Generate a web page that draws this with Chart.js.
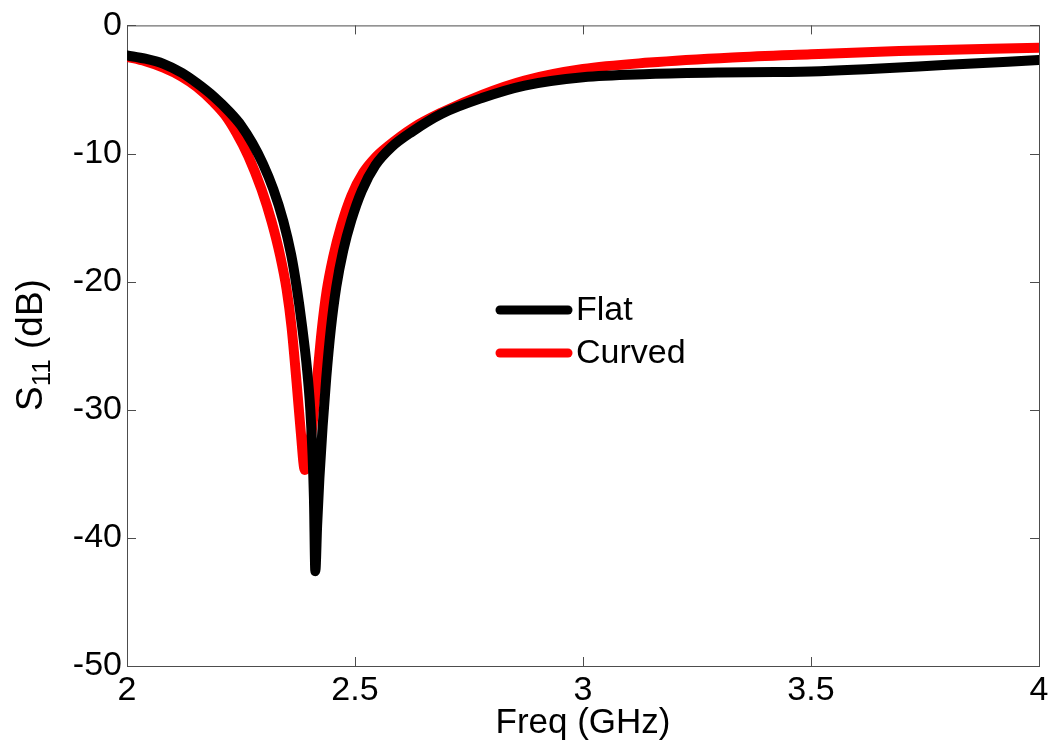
<!DOCTYPE html>
<html>
<head>
<meta charset="utf-8">
<script src="https://cdn.jsdelivr.net/npm/chart.js@4/dist/chart.umd.min.js"></script>
<style>
  html, body { margin: 0; padding: 0; background: #ffffff; }
  #wrap { width: 1055px; height: 752px; }
</style>
</head>
<body>
<div id="wrap"><canvas id="s11Chart" width="1055" height="752"></canvas></div>
<script>
// frequency sweep (GHz) and return loss (dB) for each antenna
let freqFlat = [2.000, 2.040, 2.080, 2.120, 2.153, 2.190, 2.226, 2.250, 2.275, 2.298, 2.321, 2.343, 2.360, 2.372,
  2.384, 2.395, 2.402, 2.407, 2.410, 2.413, 2.417, 2.422, 2.429, 2.437, 2.447, 2.459, 2.474, 2.492, 2.515,
  2.545, 2.580, 2.625, 2.690, 2.780, 2.872, 3.000, 3.146, 3.300, 3.420, 3.520, 3.620, 3.800, 4.000];
let s11Flat = [-2.35, -2.6, -3.0, -3.7, -4.5, -5.55, -6.8, -7.8, -9.2, -10.8, -12.8, -15.3, -17.9, -20.4,
  -23.5, -26.9, -30.0, -33.6, -37.0, -42.6, -39.0, -35.3, -31.3, -27.5, -23.7, -20.4, -17.6, -15.2, -12.9,
  -10.9, -9.5, -8.3, -6.9, -5.65, -4.7, -4.05, -3.8, -3.68, -3.64, -3.57, -3.43, -3.08, -2.7];

let freqCurved = [2.000, 2.040, 2.080, 2.120, 2.153, 2.190, 2.215, 2.240, 2.266, 2.295, 2.317, 2.336, 2.350,
  2.361, 2.372, 2.381, 2.390, 2.405, 2.416, 2.427, 2.438, 2.452, 2.470, 2.492, 2.518, 2.545, 2.570, 2.627,
  2.690, 2.780, 2.872, 3.000, 3.146, 3.328, 3.500, 3.693, 4.000];
let s11Curved = [-2.45, -2.8, -3.3, -4.0, -4.8, -6.0, -7.0, -8.4, -10.2, -12.8, -15.3, -18.0, -20.6,
  -23.6, -27.9, -31.7, -34.7, -31.7, -27.9, -23.8, -20.7, -18.1, -15.6, -13.3, -11.5, -10.3, -9.5, -8.0,
  -6.8, -5.4, -4.3, -3.4, -2.9, -2.5, -2.25, -2.0, -1.75];

let seriesNames = ["Flat", "Curved"];
let xTicks = [2, 2.5, 3, 3.5, 4];
let yTicks = [0, -10, -20, -30, -40, -50];

const FONT = "'Liberation Sans', Arial, sans-serif";

function toPoints(xs, ys) {
  return xs.map((x, i) => ({ x: x, y: ys[i] }));
}

// MATLAB style box with inward ticks on all four sides, plus y title and legend
const boxPlugin = {
  id: "boxAxes",
  beforeDatasetsDraw(chart) {
    const { ctx, chartArea: a, scales } = chart;
    const len = 9;
    ctx.save();
    ctx.strokeStyle = "#4d4d4d";
    ctx.lineWidth = 1;
    ctx.strokeRect(a.left + 0.5, a.top + 0.5, a.right - a.left, a.bottom - a.top);
    ctx.beginPath();
    xTicks.forEach((v) => {
      const px = Math.round(scales.x.getPixelForValue(v)) + 0.5;
      ctx.moveTo(px, a.bottom); ctx.lineTo(px, a.bottom - len);
      ctx.moveTo(px, a.top); ctx.lineTo(px, a.top + len);
    });
    yTicks.forEach((v) => {
      const py = Math.round(scales.y.getPixelForValue(v)) + 0.5;
      ctx.moveTo(a.left, py); ctx.lineTo(a.left + len, py);
      ctx.moveTo(a.right, py); ctx.lineTo(a.right - len, py);
    });
    ctx.stroke();
    ctx.restore();
  },
  afterDraw(chart) {
    const { ctx } = chart;
    ctx.save();
    // y axis title with subscript: S11 (dB)
    ctx.translate(42, 345);
    ctx.rotate(-Math.PI / 2);
    ctx.fillStyle = "#000000";
    ctx.textBaseline = "alphabetic";
    const big = "37px " + FONT;
    const small = "26px " + FONT;
    ctx.font = big;
    const wS = ctx.measureText("S").width;
    const wRest = ctx.measureText(" (dB)").width;
    ctx.font = small;
    const wSub = ctx.measureText("11").width;
    const x0 = -(wS + wSub + wRest) / 2;
    ctx.font = big;
    ctx.fillText("S", x0, 0);
    ctx.font = small;
    ctx.fillText("11", x0 + wS, 8);
    ctx.font = big;
    ctx.fillText(" (dB)", x0 + wS + wSub, 0);
    ctx.restore();

    // legend inside the axes
    ctx.save();
    ctx.font = "34px " + FONT;
    ctx.textBaseline = "middle";
    ctx.lineCap = "round";
    chart.data.datasets.forEach((ds, i) => {
      const y = 310 + i * 43;
      ctx.strokeStyle = ds.borderColor;
      ctx.lineWidth = 9;
      ctx.beginPath();
      ctx.moveTo(500, y);
      ctx.lineTo(568, y);
      ctx.stroke();
      ctx.fillStyle = "#000000";
      ctx.fillText(ds.label, 576, y + 1);
    });
    ctx.restore();
  },
};

new Chart(document.querySelector("#s11Chart"), {
  type: "line",
  data: {
    datasets: [
      {
        label: seriesNames[0],
        data: toPoints(freqFlat, s11Flat),
        borderColor: "#000000",
        borderWidth: 10,
        pointRadius: 0,
        fill: false,
        cubicInterpolationMode: "monotone",
        borderCapStyle: "round",
        borderJoinStyle: "round",
      },
      {
        label: seriesNames[1],
        data: toPoints(freqCurved, s11Curved),
        borderColor: "#ff0000",
        borderWidth: 10,
        pointRadius: 0,
        fill: false,
        cubicInterpolationMode: "monotone",
        borderCapStyle: "round",
        borderJoinStyle: "round",
      },
    ],
  },
  options: {
    responsive: false,
    animation: false,
    layout: {
      padding: { top: 19, right: 16, left: 0, bottom: 0 },
    },
    scales: {
      x: {
        type: "linear",
        min: 2,
        max: 4,
        grid: { display: false, drawTicks: false },
        border: { display: false },
        afterBuildTicks: (scale) => {
          scale.ticks = xTicks.map((v) => ({ value: v }));
        },
        afterFit: (scale) => {
          scale.height = 86;
        },
        ticks: {
          padding: 4,
          maxRotation: 0,
          color: "#000000",
          font: { size: 34, family: FONT },
          callback: (value) => String(value),
        },
        title: {
          display: true,
          text: "Freq (GHz)",
          color: "#000000",
          padding: { top: 0, bottom: 8 },
          font: { size: 35, family: FONT },
        },
      },
      y: {
        min: -50,
        max: 0,
        grid: { display: false, drawTicks: false },
        border: { display: false },
        afterBuildTicks: (scale) => {
          scale.ticks = yTicks.map((v) => ({ value: v }));
        },
        afterFit: (scale) => {
          scale.width = 127;
        },
        ticks: {
          padding: 5,
          color: "#000000",
          font: { size: 34, family: FONT },
          callback: (value) => String(value),
        },
      },
    },
    plugins: {
      legend: { display: false },
      tooltip: { enabled: false },
    },
  },
  plugins: [boxPlugin],
});
</script>
</body>
</html>
